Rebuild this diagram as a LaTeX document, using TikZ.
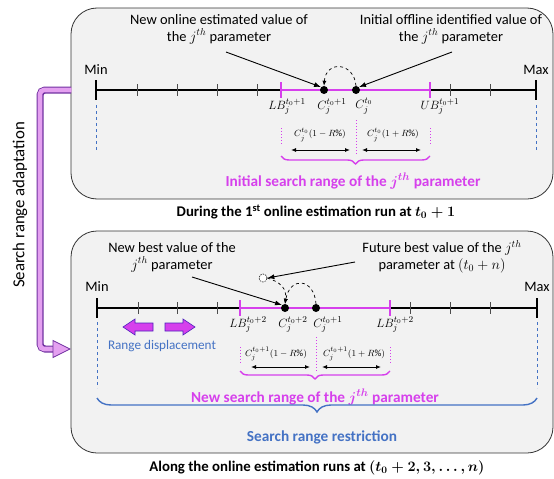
\documentclass[tikz,border=0pt]{standalone}
\usepackage{fontspec}
\setmainfont{Carlito}
\usetikzlibrary{arrows.meta,decorations.pathreplacing,calc}
\definecolor{mag}{RGB}{214,64,236}
\definecolor{bluec}{RGB}{68,114,196}
\definecolor{boxbg}{RGB}{242,242,242}
\definecolor{lilac}{RGB}{228,160,240}
\definecolor{purp}{RGB}{112,48,160}
\tikzset{
  panel/.style={draw=black!80,fill=boxbg,rounded corners=26pt,line width=0.8pt},
  axisline/.style={line width=2.4pt},
  tickmark/.style={line width=0.8pt,black!70},
  endmark/.style={line width=2pt},
  magline/.style={mag,line width=2.6pt},
  magmark/.style={mag,line width=2.6pt},
  dotc/.style={circle,fill=black,inner sep=0pt,minimum size=8pt},
  hollowc/.style={circle,draw=black!80,dash pattern=on 1.5pt off 1pt,fill=white,inner sep=0pt,minimum size=8pt,line width=0.7pt},
  lbl/.style={font=\fontsize{14.4}{17}\selectfont,align=center,inner sep=1pt},
  mathlbl/.style={font=\fontsize{13}{14}\selectfont,inner sep=0pt},
  smallf/.style={font=\fontsize{9.5}{10}\selectfont,inner sep=0pt},
  pointer/.style={-{Latex[length=7pt,width=5pt]},line width=0.9pt},
  dasharc/.style={-{Latex[length=5pt,width=4pt]},dashed,line width=0.7pt},
  dbl/.style={{Latex[length=5pt,width=4pt]}-{Latex[length=5pt,width=4pt]},line width=0.9pt},
  magdot/.style={mag,dotted,line width=1pt},
  bluedash/.style={bluec,dashed,line width=0.6pt},
  magbrace/.style={mag,line width=1.4pt,decorate,decoration={brace,mirror,amplitude=8pt}},
  bluebrace/.style={bluec,line width=1.4pt,decorate,decoration={brace,mirror,amplitude=14pt}},
  blockarrow/.style={fill=mag,draw=purp!70!blue,line width=0.6pt},
  caption/.style={font=\fontsize{14.8}{16}\selectfont\bfseries\boldmath},
  colorlbl/.style={font=\fontsize{15.3}{17}\selectfont\bfseries\boldmath}
}
\begin{document}
\begin{tikzpicture}[x=1pt,y=-1pt]
\useasboundingbox (0,0) rectangle (554,479);

% ---------- panels ----------
\path[panel] (71,8) rectangle (553,199);
\path[panel] (71,231) rectangle (553,453);

% ---------- adaptation arrow ----------
\draw[purp,line width=7pt,rounded corners=5pt] (71,90) -- (40,90) -- (40,349) -- (55,349);
\draw[lilac,line width=4.6pt,rounded corners=4pt] (71.5,90) -- (40,90) -- (40,349) -- (56,349);
\draw[purp,fill=lilac,line width=0.8pt,line join=miter] (53,340.5) -- (70,349) -- (53,357.5) -- cycle;
\node[rotate=90,font=\fontsize{16.8}{18}\selectfont] (adapt) at (20,205) {Search range adaptation};

% ================= TOP PANEL =================
\coordinate (tmin) at (96,90);
\coordinate (tmax) at (536,90);
\draw[axisline] (tmin) -- (tmax);
\foreach \x in {137,177,217,257,450,490}{\draw[tickmark] (\x,84) -- (\x,96);}
\draw[endmark] (96,80) -- (96,100);
\draw[endmark] (536,80) -- (536,100);
\coordinate (tlb) at (281,90);
\coordinate (tub) at (430,90);
\draw[magline] (tlb) -- (tub);
\draw[magmark] (281,82) -- (281,98);
\draw[magmark] (430,82) -- (430,98);
\node[dotc] (td1) at (324,90) {};
\node[dotc] (td2) at (356,90) {};
\node[lbl] (tminl) at (96,70) {Min};
\node[lbl] (tmaxl) at (536,70) {Max};

\node[lbl] (tnew) at (219,29) {New online estimated value of\\the $j^{th}$ parameter};
\node[lbl] (tini) at (451,29) {Initial offline identified value of\\the $j^{th}$ parameter};
\coordinate (tnewa) at (226,52);
\coordinate (tinia) at (452,52);
\draw[pointer] (tnewa) -- (td1.north west);
\draw[pointer] (tinia) -- (td2.north east);
\draw[dasharc] (td2.north) .. controls (354,62) and (326,60) .. (td1.north);

\node[mathlbl,anchor=north] (tlbl) at (287,98) {$LB_j^{t_0+1}$};
\node[mathlbl,anchor=north] (tc1l) at (332,98) {$C_j^{t_0+1}$};
\node[mathlbl,anchor=north] (tc0l) at (364,98) {$C_j^{t_0}$};
\node[mathlbl,anchor=north] (tubl) at (440,98) {$UB_j^{t_0+1}$};

\draw[bluedash] (96,105) -- (96,152);
\draw[bluedash] (536,105) -- (536,152);
\draw[magdot] (281,128) -- (281,145);
\draw[magdot] (430,128) -- (430,145);
\draw[magdot] (356,120) -- (356,155);
\node[smallf] (tfl) at (320,135) {$C_j^{t_0}(1-R\%)$};
\node[smallf] (tfr) at (393,135) {$C_j^{t_0}(1+R\%)$};
\coordinate (ta1) at (291,150); \coordinate (ta2) at (350,150);
\coordinate (ta3) at (362,150); \coordinate (ta4) at (421,150);
\draw[dbl] (ta1) -- (ta2);
\draw[dbl] (ta3) -- (ta4);
\draw[magbrace] (281,156) -- (430,156);
\node[colorlbl,text=mag] (tbr) at (353,181) {Initial search range of the $j^{th}$ parameter};
\node[caption] (tcap) at (316,212) {During the 1\textsuperscript{st} online estimation run at $t_0+1$};

% ================= BOTTOM PANEL =================
\coordinate (bmin) at (97,308);
\coordinate (bmax) at (537,308);
\draw[axisline] (bmin) -- (bmax);
\foreach \x in {138,177,217,410,450,490}{\draw[tickmark] (\x,302) -- (\x,314);}
\draw[endmark] (97,298) -- (97,318);
\draw[endmark] (537,298) -- (537,318);
\coordinate (blb) at (240,308);
\coordinate (bub) at (390,308);
\draw[magline] (blb) -- (bub);
\draw[magmark] (240,300) -- (240,316);
\draw[magmark] (390,300) -- (390,316);
\node[dotc] (bd1) at (285,308) {};
\node[dotc] (bd2) at (316,308) {};
\node[hollowc] (bfut) at (263,278) {};
\node[lbl] (bminl) at (97,287) {Min};
\node[lbl] (bmaxl) at (537,287) {Max};

\node[lbl] (bnew) at (172,257) {New best value of the\\$j^{th}$ parameter};
\node[lbl] (bfuttxt) at (442,257) {Future best value of the $j^{th}$\\parameter at $(t_0+n)$};
\coordinate (bnewa) at (192,277);
\coordinate (bfuta) at (355,262);
\draw[pointer] (bnewa) -- (bd1.north west);
\draw[pointer] (bfuta) -- (bfut.east);
\draw[dasharc] (bfut.east) .. controls (280,282) and (287,288) .. (bd1.north);
\draw[dasharc] (bd2.north) .. controls (314,278) and (290,276) .. (bd1.north);

\node[mathlbl,anchor=north] (blbl) at (248,316) {$LB_j^{t_0+2}$};
\node[mathlbl,anchor=north] (bc2l) at (293,316) {$C_j^{t_0+2}$};
\node[mathlbl,anchor=north] (bc1l) at (328,316) {$C_j^{t_0+1}$};
\node[mathlbl,anchor=north] (bubl) at (395,316) {$LB_j^{t_0+2}$};

% range displacement arrows
\draw[blockarrow] (123,327) -- (135,319) -- (135,323) -- (153,323) -- (153,331) -- (135,331) -- (135,335) -- cycle;
\draw[blockarrow] (195,327) -- (183,319) -- (183,323) -- (165,323) -- (165,331) -- (183,331) -- (183,335) -- cycle;
\node[font=\fontsize{13.2}{15}\selectfont,text=bluec] (rdisp) at (162,346) {Range displacement};

\draw[bluedash] (97,322) -- (97,388);
\draw[bluedash] (537,322) -- (537,388);
\draw[magdot] (240,347) -- (240,363);
\draw[magdot] (390,347) -- (390,363);
\draw[magdot] (316,337) -- (316,372);
\node[smallf] (bfl) at (276,354) {$C_j^{t_0+1}(1-R\%)$};
\node[smallf] (bfr) at (354,354) {$C_j^{t_0+1}(1+R\%)$};
\coordinate (ba1) at (251,367); \coordinate (ba2) at (310,367);
\coordinate (ba3) at (322,367); \coordinate (ba4) at (381,367);
\draw[dbl] (ba1) -- (ba2);
\draw[dbl] (ba3) -- (ba4);
\draw[magbrace] (240,371) -- (390,371);
\node[colorlbl,text=mag] (bbr) at (315,397) {New search range of the $j^{th}$ parameter};
\draw[bluebrace] (97,398) -- (537,398);
\node[colorlbl,text=bluec] (brest) at (322,437) {Search range restriction};
\node[caption] (bcap) at (317,468) {Along the online estimation runs at $(t_0+2,3,\ldots,n)$};
\end{tikzpicture}
\end{document}
